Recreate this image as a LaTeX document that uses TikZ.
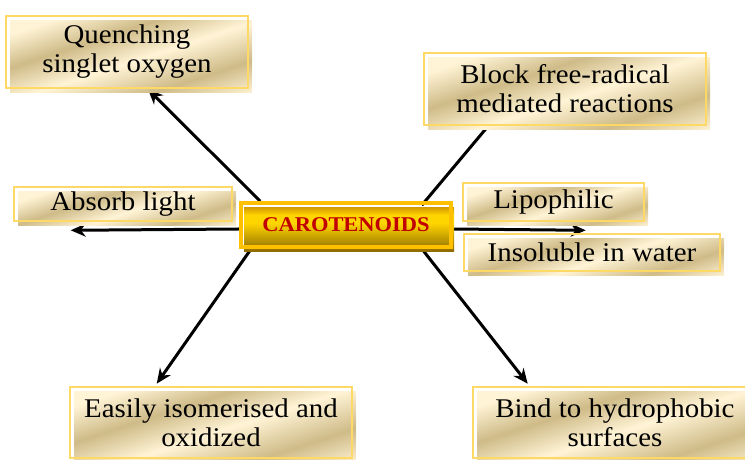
\documentclass[tikz,border=0pt]{standalone}
\usepackage{fontspec}
\setmainfont{Liberation Serif}[FakeStretch=1.07]
\usetikzlibrary{arrows.meta}
\definecolor{tanA}{HTML}{CFBB88}
\definecolor{creamA}{HTML}{FFF4D6}
\definecolor{goldline}{HTML}{FFD966}
\definecolor{coreline}{HTML}{FFC000}
\definecolor{coreTop}{HTML}{D9A000}
\definecolor{coreMid}{HTML}{FFD500}
\definecolor{coreBot}{HTML}{8A6800}
\definecolor{coretext}{HTML}{C00000}
\pgfdeclarehorizontalshading{goldbox}{100bp}{color(0bp)=(creamA); color(24bp)=(creamA); color(38bp)=(tanA); color(52bp)=(creamA); color(68bp)=(tanA); color(82bp)=(creamA); color(100bp)=(creamA)}
\pgfdeclareverticalshading{coreshade}{100bp}{color(0bp)=(coreBot); color(25bp)=(coreBot); color(58bp)=(coreMid); color(67bp)=(coreMid); color(75bp)=(coreTop); color(100bp)=(coreTop)}
\pgfdeclarelayer{bg}
\pgfsetlayers{bg,main}
\tikzset{
  gbox/.style={draw=goldline, line width=2.6pt, inner sep=0pt, align=center,
    font=\fontsize{27}{29}\selectfont,
    preaction={draw=none, shade, shading=goldbox, shading angle=-72,
      transform canvas={shift={(4pt,-5pt)}}}},
  core/.style={draw=coreline, line width=3.6pt, inner sep=0pt,
    minimum width=210pt, minimum height=44pt,
    font=\bfseries\fontsize{21}{24}\selectfont, text=coretext,
    preaction={draw=none, shade, shading=coreshade,
      transform canvas={shift={(3pt,-5pt)}}}},
  arr/.style={line width=3pt, -{Stealth[length=15pt, width=13pt]}}
}
\begin{document}
\begin{tikzpicture}[x=1pt,y=1pt]
\useasboundingbox (0,0) rectangle (745,460);
\node[gbox, minimum width=242pt, minimum height=72pt] (quench) at (127,408) {Quenching\\singlet oxygen};
\node[gbox, minimum width=282pt, minimum height=72pt] (block) at (565,371) {Block free-radical\\mediated reactions};
\node[gbox, minimum width=218pt, minimum height=34pt] (absorb) at (123,256) {Absorb light};
\node[core] (core) at (346,235) {CAROTENOIDS};
\node[gbox, minimum width=181pt, minimum height=38pt] (lipo) at (553.5,258) {Lipophilic};
\node[gbox, minimum width=256pt, minimum height=37pt] (insol) at (592,207.5) {Insoluble in water};
\node[gbox, minimum width=282pt, minimum height=71pt] (easy) at (211,37.5) {Easily isomerised and\\oxidized};
\node[gbox, minimum width=284pt, minimum height=71pt] (bind) at (615,37.5) {Bind to hydrophobic\\surfaces};
\begin{pgfonlayer}{bg}
\draw[arr] ([xshift=21pt]core.north west) -- ([xshift=21pt]quench.south);
\draw[arr] ([xshift=-31pt,yshift=-4pt]core.north east) -- ([xshift=-55pt,yshift=-11pt]block.center);
\draw[arr] ([yshift=-4pt]core.west) -- ([xshift=58pt,yshift=-8pt]absorb.south west);
\draw[arr] ([yshift=-4pt]core.east) -- ([xshift=124pt,yshift=-8pt]lipo.south west);
\draw[arr] ([xshift=12pt]core.south west) -- ([xshift=88pt,yshift=2pt]easy.north west);
\draw[arr] ([xshift=-31pt]core.south east) -- ([xshift=56pt,yshift=2pt]bind.north west);
\end{pgfonlayer}
\end{tikzpicture}
\end{document}
